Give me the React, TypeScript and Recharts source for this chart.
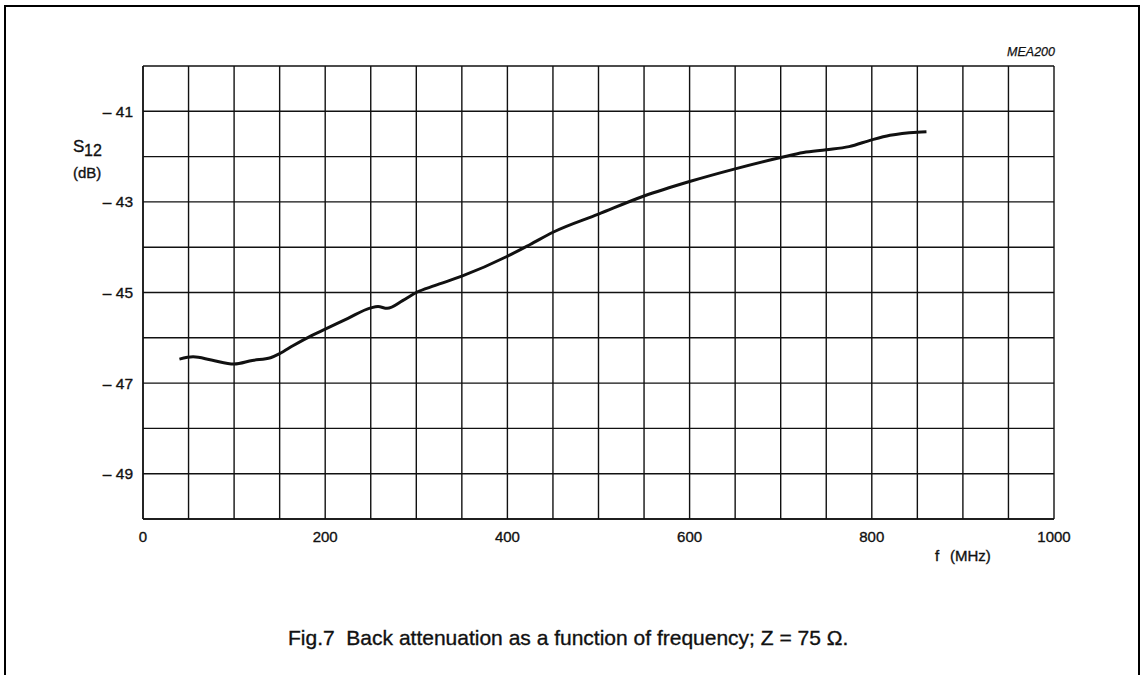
import React from 'react';
import { LineChart, Line, XAxis, YAxis, CartesianGrid } from 'recharts';

// curve (f in MHz, S12 in dB)
const FREQ_MHZ = [40, 55, 75, 100, 120, 140, 150, 165, 185, 200, 225, 250, 258, 268, 285, 300, 320, 350, 400, 425, 450, 500, 550, 600, 650, 700, 725, 750, 775, 800, 820, 850, 860];
const S12_DB = [-46.47, -46.42, -46.49, -46.58, -46.5, -46.44, -46.35, -46.17, -45.95, -45.81, -45.57, -45.34, -45.31, -45.35, -45.18, -45.0, -44.85, -44.64, -44.2, -43.94, -43.67, -43.27, -42.87, -42.55, -42.27, -42.02, -41.91, -41.85, -41.78, -41.63, -41.53, -41.46, -41.45];

const X_GRID = [0, 50, 100, 150, 200, 250, 300, 350, 400, 450, 500, 550, 600, 650, 700, 750, 800, 850, 900, 950, 1000];
const X_LABELS = [0, 200, 400, 600, 800, 1000];
const Y_GRID = [-50, -49, -48, -47, -46, -45, -44, -43, -42, -41, -40];
const Y_LABELS = [-49, -47, -45, -43, -41];

const data = FREQ_MHZ.map((f, i) => ({ f, s12: S12_DB[i] }));

const FONT = '"Liberation Sans", Arial, Helvetica, sans-serif';
// a thin outline makes the text look like the heavier print of the scan
const INK = { fill: '#111', stroke: '#111', strokeWidth: 0.35 };

const XTick = ({ x, y, payload }: any) => {
  if (!X_LABELS.includes(payload.value)) return null;
  return (
    <text x={x} y={y + 22.5} textAnchor="middle" fontFamily={FONT} fontSize={15} {...INK}>
      {payload.value}
    </text>
  );
};

const YTick = ({ x, y, payload }: any) => {
  if (!Y_LABELS.includes(payload.value)) return null;
  return (
    <text x={x - 10} y={y + 5.5} textAnchor="end" fontFamily={FONT} fontSize={15.5} {...INK}>
      {'\u2013 ' + Math.abs(payload.value)}
    </text>
  );
};

export default function App() {
  return (
    <div style={{ position: 'fixed', left: 0, top: 0, width: 1143, height: 675, overflow: 'hidden', background: '#fff' }}>
      <LineChart width={1143} height={675} data={data} margin={{ top: 66, right: 89, bottom: 126, left: 83 }}>
        <CartesianGrid stroke="#111" strokeWidth={1.4} fill="none" />
        <XAxis
          dataKey="f"
          type="number"
          domain={[0, 1000]}
          ticks={X_GRID}
          interval={0}
          height={30}
          tickLine={false}
          tickSize={0}
          tickMargin={0}
          axisLine={{ stroke: '#111', strokeWidth: 1.4 }}
          tick={<XTick />}
        />
        <YAxis
          type="number"
          domain={[-50, -40]}
          ticks={Y_GRID}
          interval={0}
          width={60}
          tickLine={false}
          tickSize={0}
          tickMargin={0}
          axisLine={{ stroke: '#111', strokeWidth: 1.4 }}
          tick={<YTick />}
        />
        <Line
          dataKey="s12"
          type="monotone"
          stroke="#111"
          strokeWidth={3}
          dot={false}
          isAnimationActive={false}
        />
      </LineChart>
      <svg
        width={1143}
        height={675}
        style={{ position: 'absolute', left: 0, top: 0, pointerEvents: 'none' }}
        fontFamily={FONT}
      >
        <text x={73} y={152} fontSize={17} {...INK}>S</text>
        <text x={84} y={156} fontSize={16} {...INK}>12</text>
        <text x={73} y={178} fontSize={15} {...INK}>(dB)</text>
        <text x={1055} y={55.5} fontSize={12.5} fontStyle="italic" textAnchor="end" {...INK} strokeWidth={0.25}>MEA200</text>
        <text x={935} y={561} fontSize={15} {...INK}>f</text>
        <text x={950} y={561} fontSize={15} {...INK}>(MHz)</text>
        <text x={288} y={645} fontSize={21} style={{ whiteSpace: 'pre' }} {...INK}>
          {'Fig.7  Back attenuation as a function of frequency; Z = 75 \u03A9.'}
        </text>
      </svg>
      {/* figure frame, open at the bottom */}
      <div
        style={{
          position: 'absolute',
          left: 4,
          top: 5,
          width: 1136,
          height: 720,
          borderLeft: '2px solid #000',
          borderTop: '2px solid #000',
          borderRight: '2px solid #000',
          boxSizing: 'border-box',
          pointerEvents: 'none',
        }}
      />
    </div>
  );
}
